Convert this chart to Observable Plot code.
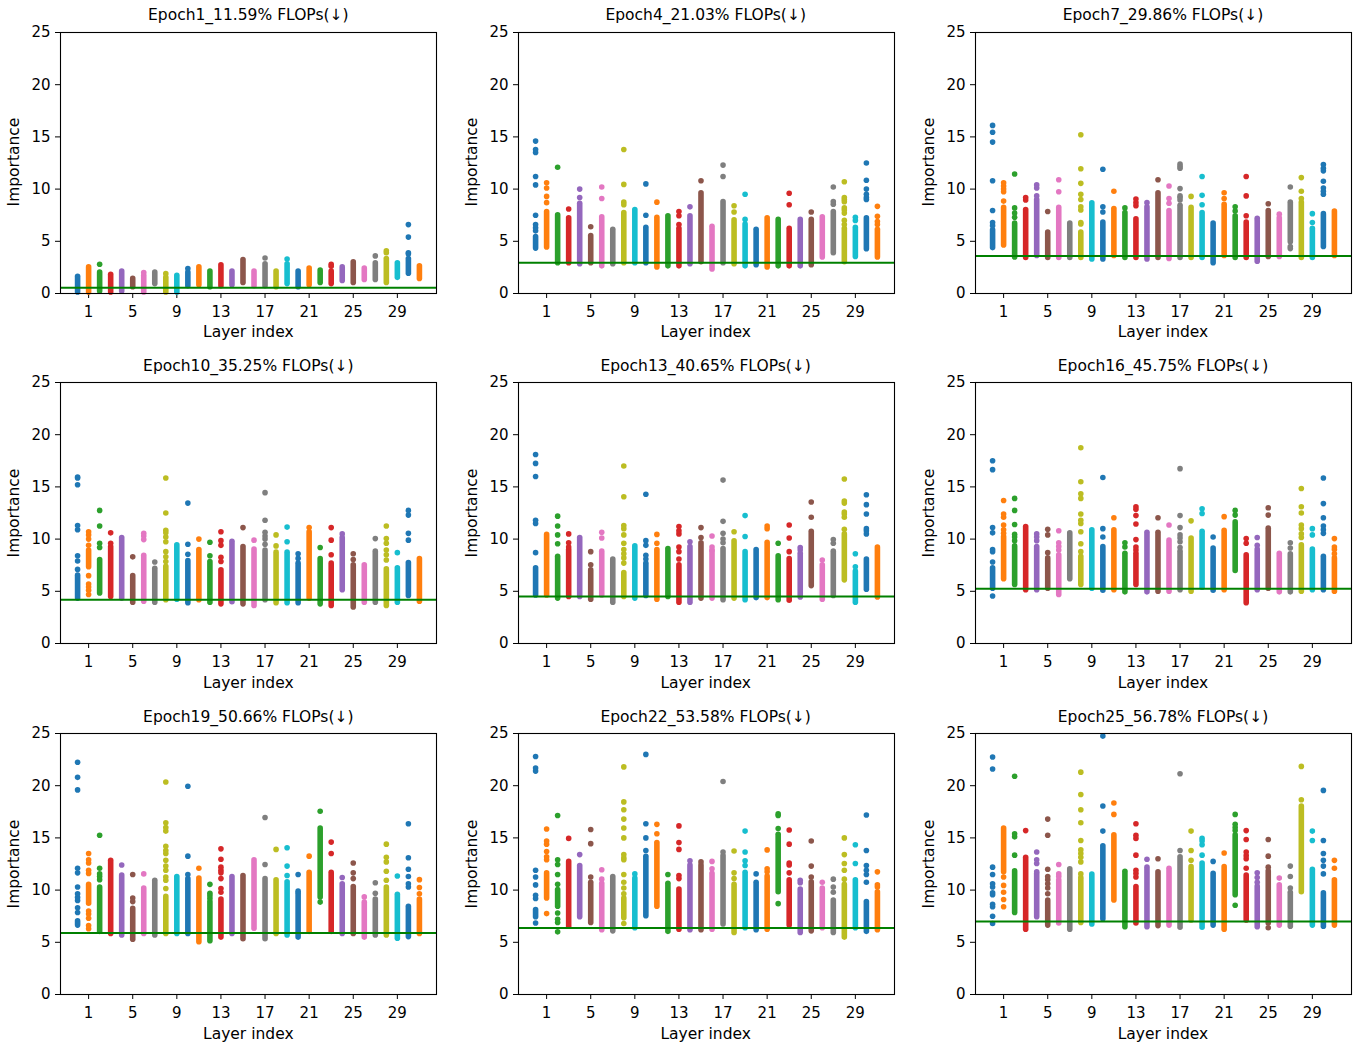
<!DOCTYPE html>
<html><head><meta charset="utf-8">
<script src="https://cdn.jsdelivr.net/npm/d3@7"></script>
<script src="https://cdn.jsdelivr.net/npm/@observablehq/plot@0.6"></script>
<style>
body{margin:0;background:#fff;}
#fig{position:relative;width:1355px;height:1043px;font-family:"DejaVu Sans",sans-serif;color:#000;overflow:hidden;}
.t{position:absolute;transform:translate(-50%,-50%);white-space:nowrap;font-size:15.5px;line-height:1;}
.yl{transform:translate(-50%,-50%) rotate(-90deg);}
</style></head><body><div id="fig"></div><script>
// ---------- data ----------
const titles = ["Epoch1_11.59% FLOPs(↓)","Epoch4_21.03% FLOPs(↓)","Epoch7_29.86% FLOPs(↓)",
  "Epoch10_35.25% FLOPs(↓)","Epoch13_40.65% FLOPs(↓)","Epoch16_45.75% FLOPs(↓)",
  "Epoch19_50.66% FLOPs(↓)","Epoch22_53.58% FLOPs(↓)","Epoch25_56.78% FLOPs(↓)"];
const thresholds = [0.55, 2.94, 3.6, 4.18, 4.5, 5.24, 5.88, 6.36, 7.0];
const xTicks = [1,5,9,13,17,21,25,29];
const yTicks = [0,5,10,15,20,25];
const tab10 = ["#1f77b4","#ff7f0e","#2ca02c","#d62728","#9467bd","#8c564b","#e377c2","#7f7f7f","#bcbd22","#17becf"];

// dense part of each layer's strip (low / high) and the separate points
const e1Lo = [0.1,0.1,0.2,0.1,0.2,0.6,0.1,0.9,0.1,0.1,0.7,0.8,0.6,0.7,0.8,1.0,0.7,0.7,0.6,0.9,0.6,0.8,1.0,0.9,1.2,1.0,1.3,1.3,1.0,1.5,1.9,1.4];
const e1Hi = [1.6,2.5,2.0,1.8,2.1,1.4,1.7,2.0,1.5,1.7,2.0,2.5,2.1,2.7,2.1,3.2,2.1,2.8,2.1,2.8,2.1,2.4,2.2,2.1,2.5,3.0,2.4,2.9,3.3,2.9,3.3,2.6];
const e1Pts = [[],[],[2.8],[],[],[],[2.0],[],[1.9],[],[2.4],[],[],[],[],[],[],[3.4],[],[3.3],[],[],[],[2.6,2.8],[],[],[],[3.6],[3.9,4.1],[],[3.8,3.9,5.4,6.6],[]];

const e4Lo = [4.3,4.4,2.9,2.9,2.8,2.9,2.6,2.8,2.9,2.9,2.9,2.5,2.6,2.6,2.8,3.0,2.3,2.9,2.8,2.6,2.7,2.5,2.6,2.6,2.6,2.7,3.45,3.85,3.0,3.5,4.25,3.45];
const e4Hi = [5.4,7.8,7.5,7.2,8.6,5.5,7.3,6.1,7.7,8.0,6.3,7.25,7.4,6.2,7.4,9.6,6.4,8.75,7.0,6.6,6.1,7.2,7.05,6.2,7.05,7.05,7.3,7.8,6.2,6.3,7.2,6.1];
const e4Pts = [[6.0,6.3,6.6,7.5,10.4,11.2,13.5,13.8,14.6],[8.7,9.3,10.1,10.6],[12.1],[8.1],[9.2,10.0],[6.4],[9.1,10.2],[],
  [8.5,8.75,10.45,13.8],[],[7.5,10.5],[8.75],[],[6.6,7.45,7.85],[8.3],[10.8],[],[11.2,12.3],[7.8,8.4],[7.1,9.5],[],[],[],
  [8.5,9.6],[],[7.8],[],[8.55,8.8,10.2],[6.6,7.0,7.7,8.0,8.2,8.8,9.0,9.2,10.7],[7.0,7.3],[9.0,9.2,9.5,10.0,10.85,12.5],[6.6,6.9,7.4,8.35]];

const e7Lo = [4.35,4.6,3.45,3.4,3.6,3.4,3.4,3.4,3.4,3.25,3.25,3.6,3.4,3.4,3.25,3.4,3.3,3.4,3.4,3.4,2.9,3.6,3.4,3.4,3.05,3.5,3.5,4.9,3.4,3.4,4.45,3.6];
const e7Hi = [6.05,8.2,6.7,8.0,8.95,5.85,8.2,6.7,5.85,8.65,6.8,8.1,7.7,7.1,8.25,9.6,7.9,8.4,8.2,7.7,6.7,8.5,7.4,6.8,6.95,7.9,7.2,8.7,8.7,6.2,7.6,7.85];
const e7Pts = [[6.5,6.8,7.95,10.8,14.5,15.45,16.1],[8.85,9.75,10.0,10.3,10.6],[7.3,7.7,8.2,11.45],[8.95,9.2],[9.35,10.1,10.4],[7.85],
  [9.75,10.9],[],[6.65,6.8,8.0,8.3,9.0,9.5,10.55,11.95,15.2],[],[7.8,8.3,11.9],[9.8],[8.2],[8.4,8.7,9.05],[8.7],[10.9],
  [8.65,9.1,10.3],[8.95,9.2,9.35,10.05,12.0,12.2,12.4],[9.3],[8.5,9.4,11.2],[],[9.1,9.65],[7.9,8.3],[7.45,9.35,11.2],[7.2],
  [8.6],[7.6],[4.3,4.5,10.2],[9.1,9.8,11.1],[6.8,7.65],[9.5,9.8,10.1,10.75,11.75,12.0,12.35],[]];

const e10Lo = [4.3,7.3,4.8,4.45,4.3,3.9,4.0,3.9,4.15,4.2,3.85,4.15,3.9,3.75,3.95,3.75,3.6,4.15,3.85,3.85,3.85,4.3,3.75,3.6,5.1,3.45,3.9,3.9,3.6,3.9,4.55,4.0];
const e10Hi = [6.5,8.9,8.0,9.25,10.1,6.45,8.4,7.15,7.35,9.4,7.9,8.95,7.8,7.0,9.75,9.25,9.0,8.9,8.7,8.7,7.65,10.65,8.1,7.65,10.1,7.5,7.5,8.8,7.1,7.2,7.7,8.1];
const e10Pts = [[7.1,7.9,8.4,10.9,11.3,15.2,15.85,15.95],[4.7,5.1,5.4,5.7,6.5,9.4,10.0,10.4,10.7],[9.2,9.6,11.25,12.75],[9.6,10.6],[],
  [8.3],[9.95,10.3,10.55],[7.8],[7.85,8.3,8.8,9.75,10.2,10.6,10.85,12.5,15.85],[],[8.55,9.5,13.45],[10.0],[8.4,9.7],
  [7.85,8.25,9.4,9.85,10.7],[],[11.1],[9.9],[9.5,10.0,10.3,10.65,11.8,14.45],[9.35,10.4],[9.75,11.15],[8.15,8.6],[11.1],[9.2],
  [8.5,9.9,11.1],[10.5],[8.05,8.6],[],[10.05],[8.0,8.5,8.95,9.6,10.05,11.25],[8.7],[9.9,10.55,12.3,12.75],[]];

const e13Lo = [4.6,4.6,4.3,4.45,4.45,4.2,4.6,3.9,4.45,4.3,4.55,4.2,4.45,3.9,3.9,4.3,4.3,4.15,4.3,4.15,4.35,4.35,4.15,4.1,4.4,5.5,4.2,4.55,6.05,3.9,5.15,4.4];
const e13Hi = [7.2,10.4,8.3,8.95,10.1,7.0,8.8,8.05,6.75,9.3,7.65,8.95,9.05,7.5,9.25,9.6,8.8,9.05,9.8,8.75,8.95,9.65,8.35,8.1,8.6,10.7,7.5,8.8,10.45,6.9,8.05,9.2];
const e13Pts = [[8.7,11.5,11.8,16.0,17.25,18.1],[],[9.55,10.4,11.25,12.2],[9.25,9.65,10.5],[],[7.55,8.8],[10.1,10.65],[],
  [7.7,8.2,8.6,9.0,9.6,10.4,11.0,11.3,14.05,17.0],[],[8.1,8.45,9.4,9.85,14.3],[9.6,10.45],[],[8.1,8.8,9.25,10.5,10.8,11.2],
  [9.75],[10.15,11.1],[8.95,9.25,10.3],[9.65,10.0,10.55,11.7,15.65],[10.7],[10.25,12.25],[],[11.0,11.25],[9.6],[8.8,10.1,11.35],
  [8.95,9.2],[12.1,13.55],[8.0],[9.6,9.95],[10.95,12.1,12.4,12.6,13.45,13.65,15.75],[7.35,8.6],[10.5,10.8,11.0,12.4,13.3,14.25],[]];

const e16Lo = [5.25,6.15,5.6,5.1,5.1,5.25,4.65,6.15,5.6,5.25,5.05,5.1,4.9,5.6,4.9,4.95,4.95,5.1,4.95,5.35,5.05,5.1,6.95,3.85,5.1,5.25,4.9,4.9,4.95,5.1,5.1,4.95];
const e16Hi = [7.2,10.2,9.3,11.15,9.25,8.15,8.45,10.55,8.3,10.85,9.25,10.85,8.6,8.6,10.6,10.6,9.85,8.8,10.05,10.7,9.1,10.8,11.6,8.45,9.0,11.0,8.6,8.55,9.4,9.0,8.3,8.15];
const e16Pts = [[4.55,7.8,8.8,9.0,10.6,11.1,16.65,17.5],[10.55,10.9,11.35,12.1,12.4,13.7],[9.85,10.2,10.45,11.4,12.75,13.9],[],
  [9.85,10.2,10.5],[8.7,10.4,10.95],[8.95,9.3,9.65,10.8],[],[8.8,9.55,10.7,11.5,11.8,12.4,13.9,14.35,15.5,18.75],[],
  [10.2,11.0,15.9],[12.05],[9.25,9.65],[8.95,9.25,9.95,11.45,12.25,12.85,13.1],[],[12.05],[11.35],
  [9.2,9.75,10.1,10.4,11.1,12.25,16.75],[11.75],[12.45,12.9],[10.2],[12.15],[12.3,12.75],[9.6,10.05],[9.4,10.15],[12.3,13.0],
  [],[9.15,9.65],[10.15,10.5,11.0,11.35,12.5,13.1,14.85],[10.4,11.0],[10.55,10.9,11.25,12.05,13.4,15.85],[8.6,9.0,9.25,10.05]];

const e19Lo = [6.6,8.7,6.0,5.8,5.65,5.25,5.8,5.65,5.8,5.8,5.8,5.0,5.1,5.45,5.8,5.3,6.3,5.3,5.8,5.65,5.45,6.0,9.3,6.0,5.8,5.8,5.45,5.65,5.65,5.35,5.5,5.8];
const e19Hi = [7.0,10.5,10.25,12.8,11.4,8.2,10.15,10.9,9.35,11.25,11.05,11.1,8.85,9.1,11.25,11.35,12.85,11.05,10.95,10.75,9.65,11.65,15.9,11.65,10.55,10.3,8.8,9.1,10.25,9.55,8.4,9.1];
const e19Pts = [[7.85,8.3,9.0,9.3,9.65,10.3,11.65,12.1,19.6,20.8,22.25],[6.3,6.6,7.3,7.7,8.0,11.6,11.9,12.6,12.9,13.5],
  [11.0,11.3,11.55,12.1,15.25],[],[12.4],[8.9,9.25,11.5],[11.55],[],
  [10.15,10.95,11.25,11.9,12.3,12.85,13.5,13.8,14.2,15.65,16.0,16.45,20.35],[],[11.5,13.25,19.95],[12.1],[9.2,9.45,9.7,10.55],
  [9.8,10.15,11.1,11.65,11.9,12.2,12.95,13.95],[],[],[],[12.45,16.95],[13.9],[11.4,12.3,14.05],[9.9,11.5],[13.25],[8.85,17.55],
  [13.5,14.6],[11.2],[11.1,11.65,12.6],[9.35],[9.7,10.7],[10.95,11.8,12.7,13.15,14.4],[11.35],[10.3,10.6,11.3,12.0,13.1,16.35],[9.65,10.25,11.0]];

const e22Lo = [7.4,9.2,8.4,6.5,7.4,6.85,6.15,6.05,7.3,6.35,7.5,8.4,6.0,6.2,6.15,6.15,6.2,6.7,5.9,6.35,6.15,6.2,9.8,6.6,5.9,6.05,6.35,5.9,5.45,6.35,6.0,6.15];
const e22Hi = [8.1,11.6,10.0,12.7,12.3,10.7,10.6,11.25,9.2,11.1,13.2,14.5,10.6,10.05,12.35,12.35,11.55,13.25,10.5,11.65,10.7,11.3,15.3,10.95,10.05,10.75,10.15,9.0,10.5,10.95,8.85,9.8];
const e22Pts = [[6.85,9.2,9.5,10.5,11.25,11.9,21.4,21.7,22.8],[7.75,12.9,13.2,13.7,14.4,14.7,15.85],
  [6.0,6.9,7.2,7.8,10.55,11.5,12.45,12.9,17.15],[14.95],[13.4],[11.25,14.45,15.8],[11.05,11.95],[],
  [6.8,9.65,10.2,10.75,11.5,12.9,13.1,13.4,15.0,15.95,16.8,17.7,18.45,21.8],[11.55],[13.8,15.0,16.35,23.0],[15.4,16.3],[11.5],
  [11.1,11.4,13.9,14.55,16.15],[12.8],[12.7],[12.05,12.75],[13.65,20.4],[11.1,11.65,13.75],[12.35,12.8,13.65,15.65],[11.55],
  [11.75,12.05,13.85],[8.7,15.9,17.15,17.3],[11.65,12.4,12.6,14.4,15.75],[10.7,10.95],[11.25,12.3,14.7],[10.75],[9.8,10.3,11.05],
  [11.05,11.9,12.55,13.4,15.0],[12.55,14.35],[10.75,11.5,11.9,12.35,13.8,17.2],[10.3,10.5,11.75]];

const e25Lo = [9.5,11.7,7.8,6.2,7.4,6.6,6.8,6.2,6.85,6.7,7.2,9.0,6.45,6.8,6.45,6.55,6.6,6.4,7.1,6.4,6.6,6.2,9.5,7.1,6.45,6.8,6.6,6.5,9.8,6.6,6.5,6.6];
const e25Hi = [9.7,15.9,11.8,13.1,11.55,9.0,10.95,12.0,10.95,11.5,14.2,15.25,11.75,10.3,12.15,11.7,12.05,13.15,12.2,12.55,11.55,12.2,15.25,11.4,10.35,11.8,10.45,9.75,18.0,11.95,9.7,10.95];
const e25Pts = [[6.8,7.5,8.4,8.65,10.3,10.6,11.5,12.2,21.6,22.75],[8.4,9.1,9.8,10.45,11.25],[13.35,15.1,15.4,20.9],[15.7],
  [11.75,12.55,12.9,13.65],[9.65,10.2,10.6,11.0,11.3,12.0,15.25,16.8],[11.3,11.55,12.45],[],
  [11.2,11.55,12.7,13.15,13.5,13.85,14.75,16.45,17.7,19.15,21.3],[],[15.65,18.05,24.75],[17.25,18.35],[],
  [11.25,11.6,11.9,13.35,14.95,15.25,16.35],[12.95],[13.0],[],[13.8,21.15],[12.85,13.8,15.65],[13.35,14.35,14.7,14.95],[12.75],
  [13.55],[8.55,15.7,16.0,16.3,17.25],[12.1,13.0,13.3,13.65,14.85,15.7],[10.75,11.2,11.65],[6.4,12.2,13.25,14.85],[11.15],
  [10.2,11.3,12.3],[18.65,21.85],[14.75,15.65],[11.55,12.3,12.85,13.5,14.75,19.55],[12.1,12.85]];

const panelLo = [e1Lo,e4Lo,e7Lo,e10Lo,e13Lo,e16Lo,e19Lo,e22Lo,e25Lo];
const panelHi = [e1Hi,e4Hi,e7Hi,e10Hi,e13Hi,e16Hi,e19Hi,e22Hi,e25Hi];
const panelPts = [e1Pts,e4Pts,e7Pts,e10Pts,e13Pts,e16Pts,e19Pts,e22Pts,e25Pts];

// ---------- layout ----------
const colLeft = [60.3, 517.7, 975.0];
const rowTop = [31.7, 382.3, 733.3];
const PW = 376, PH = 261;
const ML = 50, MR = 6, MT = 6, MB = 30;
const fig = document.getElementById("fig");

function addText(txt, x, y, cls) {
  const d = document.createElement("div");
  d.className = "t" + (cls ? " " + cls : "");
  d.textContent = txt;
  d.style.left = x + "px";
  d.style.top = y + "px";
  fig.appendChild(d);
}

for (let p = 0; p < 9; p++) {
  const r = Math.floor(p / 3), c = p % 3;
  const lo = panelLo[p], hi = panelHi[p], pts = panelPts[p];
  const segs = lo.map((l, i) => ({i, lo: l, hi: hi[i]}));
  const dots = pts.flatMap((arr, i) => arr.map(v => ({i, v})));
  const svg = Plot.plot({
    width: ML + PW + MR, height: MT + PH + MB,
    marginLeft: ML, marginRight: MR, marginTop: MT, marginBottom: MB,
    style: {fontFamily: "DejaVu Sans", fontSize: "15px", background: "transparent", overflow: "visible", color: "#000"},
    color: {type: "identity"},
    x: {domain: [-1.55, 32.55], ticks: xTicks, tickFormat: d => String(d), tickSize: 5, tickPadding: 8, label: null},
    y: {domain: [0, 25], ticks: yTicks, tickSize: 5, tickPadding: 5, label: null},
    marks: [
      Plot.ruleX(segs, {x: "i", y1: "lo", y2: "hi", stroke: d => tab10[d.i % 10], strokeWidth: 5.6, strokeLinecap: "round"}),
      Plot.dot(dots, {x: "i", y: "v", r: 2.8, fill: d => tab10[d.i % 10]}),
      Plot.ruleY([thresholds[p]], {stroke: "#008000", strokeWidth: 2}),
      Plot.frame({stroke: "#000", strokeWidth: 1.1})
    ]
  });
  svg.style.position = "absolute";
  svg.style.left = (colLeft[c] - ML) + "px";
  svg.style.top = (rowTop[r] - MT) + "px";
  svg.style.maxWidth = "none";
  fig.appendChild(svg);
  addText(titles[p], colLeft[c] + PW / 2, rowTop[r] - 15.5);
  addText("Importance", colLeft[c] - 45, rowTop[r] + PH / 2, "yl");
  addText("Layer index", colLeft[c] + PW / 2, rowTop[r] + PH + 40.6);
}
</script></body></html>
